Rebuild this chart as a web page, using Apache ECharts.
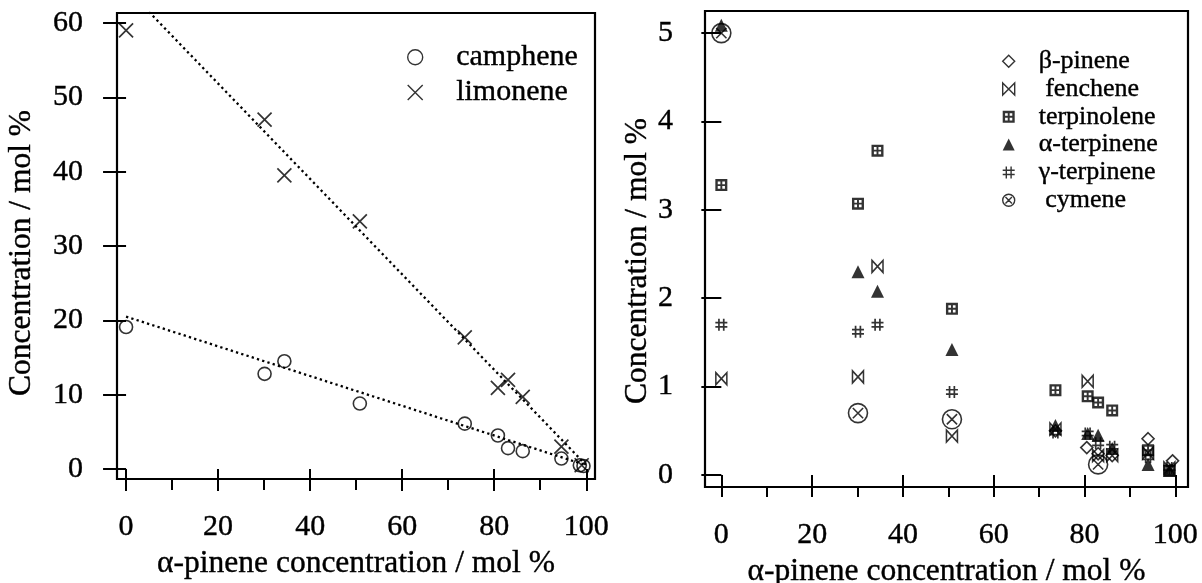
<!DOCTYPE html>
<html><head><meta charset="utf-8">
<script src="https://cdn.jsdelivr.net/npm/echarts@6/dist/echarts.min.js"></script>
<style>html,body{margin:0;padding:0;background:#fff}#c{width:1202px;height:583px}</style>
</head><body><div id="c"></div>
<script>
// ---- tick values ----
const xTicks = [0, 20, 40, 60, 80, 100];
const xMinorTicks = [10, 30, 50, 70, 90];
const yTicksLeft = [0, 10, 20, 30, 40, 50, 60];
const yTicksRight = [0, 1, 2, 3, 4, 5];

// ---- left panel data ----
const camX = [0, 30.1, 34.4, 50.8, 73.6, 80.8, 83.0, 86.2, 94.6, 98.6, 99.4];
const camY = [19.1, 12.8, 14.5, 8.8, 6.1, 4.5, 2.8, 2.4, 1.4, 0.5, 0.4];
const limX = [0, 30.1, 34.4, 50.8, 73.6, 80.8, 83.0, 86.2, 94.6, 99.0];
const limY = [59.0, 47.0, 39.5, 33.3, 17.7, 10.9, 12.0, 9.7, 3.0, 0.5];
const camFitX = [0, 100];
const camFitY = [20.5, 0.5];
const limFitX = [0, 100];
const limFitY = [64.7, 0.5];

// ---- right panel data ----
const rX = [0, 30.1, 34.4, 50.8, 73.6, 80.7, 83.0, 86.1, 94.0, 98.7];
const bpinX = [73.6, 80.5, 83.0, 86.1, 94.0, 99.4];
const bpinY = [0.50, 0.31, 0.24, 0.22, 0.41, 0.16];
const fenY = [1.09, 1.11, 2.36, 0.44, 0.52, 1.06, 0.22, 0.22, 0.25, 0.08];
const terpY = [3.28, 3.07, 3.67, 1.88, 0.96, 0.89, 0.82, 0.73, 0.28, 0.05];
const aterpY = [5.09, 2.30, 2.08, 1.42, 0.56, 0.47, 0.45, 0.30, 0.12, 0.05];
const gterpY = [1.70, 1.62, 1.70, 0.94, 0.48, 0.47, 0.36, 0.32, 0.20, 0.08];
const cymX = [0, 30.1, 50.8, 83.0];
const cymY = [5.00, 0.70, 0.63, 0.12];

const zip = (xs, ys) => xs.map((x, i) => [x, ys[i]]);

const FONT = "'Liberation Serif','Times New Roman',serif";
const TXT = { fontFamily: FONT, color: '#000', textBorderColor: '#000', textBorderWidth: 0.4 };
const CIRCLE = 'path://M10,5A5,5,0,1,1,0,5A5,5,0,1,1,10,5Z';
const CROSS = 'path://M0,0L10,10M10,0L0,10';
const DIAMOND = 'path://M5,0L10,5L5,10L0,5Z';
const BOWTIE = 'path://M0,0L10,10L10,0L0,10Z';
const SQHOLES = 'path://M0,0L10,0L10,10L0,10Z' +
  'M2,2L2,4.2L4.2,4.2L4.2,2Z' +
  'M5.8,2L5.8,4.2L8,4.2L8,2Z' +
  'M2,5.8L2,8L4.2,8L4.2,5.8Z' +
  'M5.8,5.8L5.8,8L8,8L8,5.8Z';
const TRI = 'path://M5,0L10,10L0,10Z';
const HASH = 'path://M3,0L3,10M7,0L7,10M0,3.2L10,3.2M0,6.8L10,6.8';
const OTIMES = 'path://M10,5A5,5,0,1,1,0,5A5,5,0,1,1,10,5ZM2.3,2.3L7.7,7.7M7.7,2.3L2.3,7.7';

const openStyle = (w) => ({ color: 'rgba(0,0,0,0)', borderColor: '#000', borderWidth: w });
const fillStyle = { color: '#000', borderWidth: 0 };

function xAxisMain(grid, min, max, gap) {
  return {
    gridIndex: grid, type: 'value', min: min, max: max,
    axisLine: { show: false }, splitLine: { show: false },
    axisTick: { show: true, customValues: xTicks, length: 22, lineStyle: { color: '#000', width: 2 } },
    axisLabel: Object.assign({ customValues: xTicks, margin: 33, fontSize: 30 }, TXT),
    name: 'α-pinene concentration / mol %', nameLocation: 'middle', nameGap: gap,
    nameTextStyle: Object.assign({ fontSize: 31.5 }, TXT)
  };
}
function xAxisMinor(grid, min, max, len) {
  return {
    gridIndex: grid, type: 'value', min: min, max: max, position: 'bottom',
    axisLine: { show: false }, splitLine: { show: false },
    axisTick: { show: true, customValues: xMinorTicks, length: len, lineStyle: { color: '#000', width: 2 } },
    axisLabel: { show: false }
  };
}
function yAxisMain(grid, min, max, ticks, tickLen, margin, gap, shift) {
  return {
    gridIndex: grid, type: 'value', min: min, max: max,
    axisLine: { show: false }, splitLine: { show: false },
    axisTick: { show: true, customValues: ticks, length: tickLen, lineStyle: { color: '#000', width: 2 } },
    axisLabel: Object.assign({ customValues: ticks, margin: margin, fontSize: 30 }, TXT),
    name: 'Concentration / mol %', nameLocation: 'middle', nameGap: gap, nameRotate: 90,
    nameTextStyle: Object.assign({ fontSize: 31.5, padding: [0, shift, 0, 0] }, TXT)
  };
}

const option = {
  animation: false,
  backgroundColor: '#fff',
  grid: [
    { left: 117, top: 13, width: 478, height: 466, show: true, borderColor: '#000', borderWidth: 2.2,
      backgroundColor: 'rgba(0,0,0,0)', containLabel: false, outerBoundsMode: 'none' },
    { left: 705, top: 11, width: 483, height: 476, show: true, borderColor: '#000', borderWidth: 2.2,
      backgroundColor: 'rgba(0,0,0,0)', containLabel: false, outerBoundsMode: 'none' }
  ],
  xAxis: [
    xAxisMain(0, -1.97, 101.9, 68),
    xAxisMinor(0, -1.97, 101.9, 11),
    xAxisMain(1, -3.6, 102.8, 69),
    xAxisMinor(1, -3.6, 102.8, 10)
  ],
  yAxis: [
    yAxisMain(0, -1.35, 61.35, yTicksLeft, 23, 34, 79, 14),
    yAxisMain(1, -0.136, 5.25, yTicksRight, 20, 32, 45, 24)
  ],
  legend: [
    {
      orient: 'vertical', left: 402, top: 37, itemWidth: 72, itemHeight: 15, itemGap: 5,
      selectedMode: false, symbolKeepAspect: true,
      textStyle: Object.assign({ fontSize: 30, lineHeight: 30 }, TXT),
      data: [
        { name: 'camphene', icon: CIRCLE, itemStyle: openStyle(1.4) },
        { name: 'limonene', icon: CROSS, itemStyle: openStyle(1.4) }
      ]
    },
    {
      orient: 'vertical', left: 997, top: 43, itemWidth: 50, itemHeight: 12, itemGap: 1.4,
      selectedMode: false, symbolKeepAspect: true,
      textStyle: Object.assign({ fontSize: 26, lineHeight: 26 }, TXT),
      data: [
        { name: 'β-pinene', icon: DIAMOND, itemStyle: openStyle(1.4) },
        { name: ' fenchene', icon: BOWTIE, itemStyle: openStyle(1.4) },
        { name: 'terpinolene', icon: SQHOLES, itemStyle: fillStyle },
        { name: 'α-terpinene', icon: TRI, itemStyle: fillStyle },
        { name: 'γ-terpinene', icon: HASH, itemStyle: openStyle(1.4) },
        { name: ' cymene', icon: OTIMES, itemStyle: openStyle(1.4) }
      ]
    }
  ],
  series: [
    { name: 'camphene fit', type: 'line', xAxisIndex: 0, yAxisIndex: 0, data: zip(camFitX, camFitY),
      symbol: 'none', silent: true, lineStyle: { color: '#000', width: 2.3, type: [2.3, 3.2] } },
    { name: 'limonene fit', type: 'line', xAxisIndex: 0, yAxisIndex: 0, data: zip(limFitX, limFitY),
      symbol: 'none', silent: true, lineStyle: { color: '#000', width: 2.3, type: [2.3, 3.2] } },
    { name: 'camphene', type: 'scatter', xAxisIndex: 0, yAxisIndex: 0, data: zip(camX, camY),
      symbol: CIRCLE, symbolSize: 13, itemStyle: openStyle(1.6) },
    { name: 'limonene', type: 'scatter', xAxisIndex: 0, yAxisIndex: 0, data: zip(limX, limY),
      symbol: CROSS, symbolSize: 14, itemStyle: openStyle(1.7) },

    { name: ' cymene', type: 'scatter', xAxisIndex: 2, yAxisIndex: 1, data: zip(cymX, cymY),
      symbol: OTIMES, symbolSize: 19, itemStyle: openStyle(1.6) },
    { name: 'β-pinene', type: 'scatter', xAxisIndex: 2, yAxisIndex: 1, data: zip(bpinX, bpinY),
      symbol: DIAMOND, symbolSize: 12, itemStyle: openStyle(1.6) },
    { name: ' fenchene', type: 'scatter', xAxisIndex: 2, yAxisIndex: 1, data: zip(rX, fenY),
      symbol: BOWTIE, symbolSize: [11, 12], itemStyle: openStyle(1.6) },
    { name: 'terpinolene', type: 'scatter', xAxisIndex: 2, yAxisIndex: 1, data: zip(rX, terpY),
      symbol: SQHOLES, symbolSize: 12, itemStyle: fillStyle },
    { name: 'α-terpinene', type: 'scatter', xAxisIndex: 2, yAxisIndex: 1, data: zip(rX, aterpY),
      symbol: TRI, symbolSize: 13, itemStyle: fillStyle },
    { name: 'γ-terpinene', type: 'scatter', xAxisIndex: 2, yAxisIndex: 1, data: zip(rX, gterpY),
      symbol: HASH, symbolSize: 12, itemStyle: openStyle(1.7) }
  ]
};

const chart = echarts.init(document.getElementById('c'), null, { renderer: 'canvas' });
chart.setOption(option);
</script>
</body></html>
